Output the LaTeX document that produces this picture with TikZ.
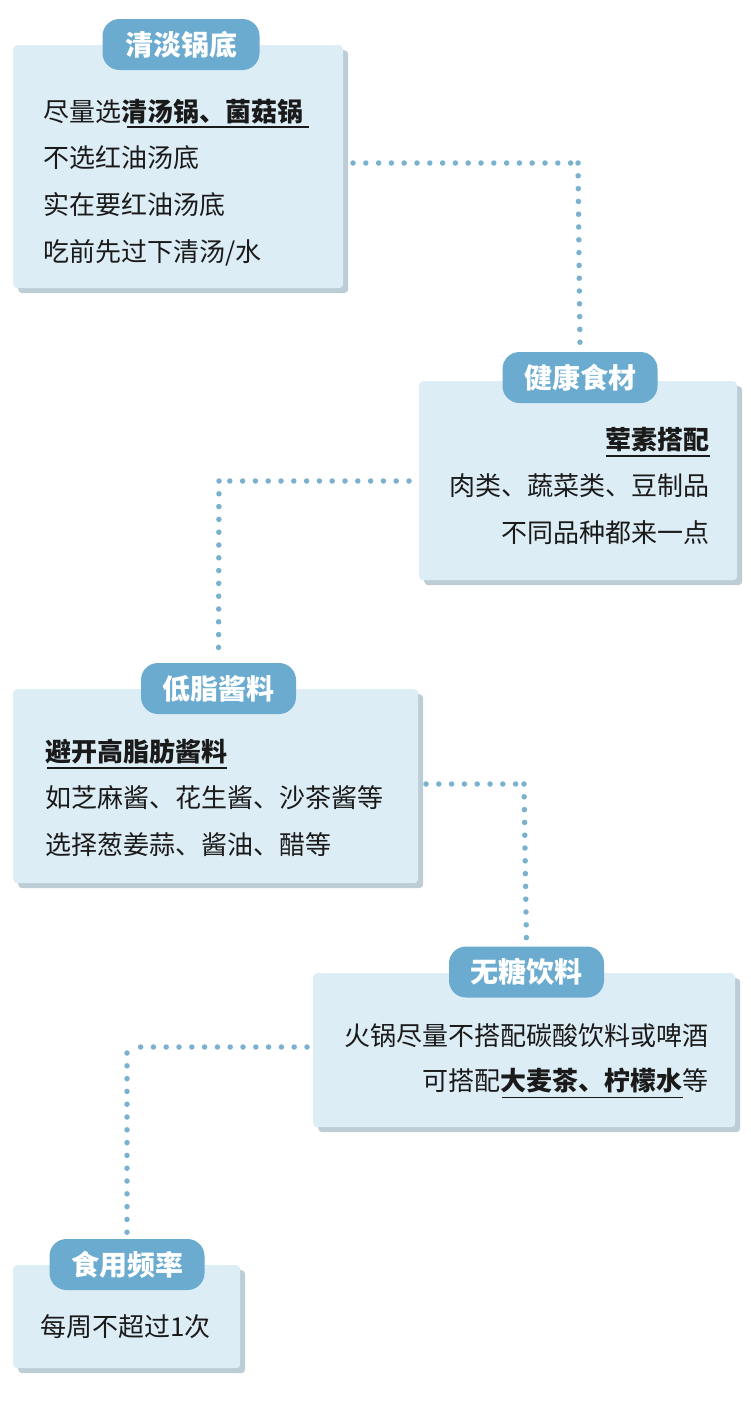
\documentclass[tikz,border=0pt]{standalone}
\usepackage{fontspec}
\setmainfont{Noto Sans CJK SC}
\usetikzlibrary{shadows}
\definecolor{boxfill}{HTML}{DDEDF5}
\definecolor{boxshadow}{HTML}{BCCDD6}
\definecolor{pillfill}{HTML}{6AABCF}
\definecolor{dotc}{HTML}{7AB1CE}
\definecolor{txtc}{HTML}{1A1A1A}
\begin{document}
\begin{tikzpicture}[x=1pt,y=-1pt,
  box/.style={fill=boxfill, rounded corners=4pt, anchor=north west, inner sep=0pt, draw=none,
    drop shadow={shadow xshift=5pt, shadow yshift=-5pt, fill=boxshadow, opacity=1}},
  pill/.style={fill=pillfill, rounded corners=17pt, inner sep=0pt, minimum width=155pt,
    minimum height=51pt, text=white, font=\fontsize{28pt}{32pt}\selectfont\bfseries},
  txt/.style={inner sep=0pt, text=txtc, font=\fontsize{26pt}{30pt}\selectfont},
  btxt/.style={inner sep=0pt, text=txtc, font=\fontsize{26pt}{30pt}\selectfont\bfseries},
  uline/.style={draw=txtc, line width=1.5pt},
  dots/.style={draw=dotc, line width=5.5pt, line cap=round, dash pattern=on 0pt off 12.8pt}]
\fill[white] (0,0) rectangle (750,1408);
\useasboundingbox (0,0) rectangle (750,1408);

% connectors
\coordinate (c1a) at (353,163);
\coordinate (c1b) at (571,163);
\coordinate (c1c) at (578,163);
\coordinate (c2a) at (409,481);
\coordinate (c2b) at (226,481);
\coordinate (c2c) at (219,481);
\coordinate (c3a) at (426,784);
\coordinate (c3b) at (517,784);
\coordinate (c3c) at (524,784);
\coordinate (c4a) at (307,1047);
\coordinate (c4b) at (140,1047);
\coordinate (c4c) at (127,1053);

% boxes
\node[box, minimum width=330pt, minimum height=243pt] (b1) at (13,45) {};
\node[box, minimum width=318pt, minimum height=199pt] (b2) at (419,381) {};
\node[box, minimum width=405pt, minimum height=194pt] (b3) at (13,689) {};
\node[box, minimum width=422pt, minimum height=154pt] (b4) at (313,973) {};
\node[box, minimum width=227pt, minimum height=103pt] (b5) at (13,1265) {};

% pills
\node[pill, minimum width=157pt] (p1) at (181,44.5) {清淡锅底};
\node[pill] (p2) at (580,377.5) {健康食材};
\node[pill] (p3) at (218.5,688.5) {低脂酱料};
\node[pill] (p4) at (526.5,972) {无糖饮料};
\node[pill] (p5) at (127,1264.5) {食用频率};

\draw[dots] (c1a) -- (c1b);
\draw[dots] (c1c) -- ([yshift=3pt]p2.north);
\draw[dots] (c2a) -- (c2b);
\draw[dots] (c2c) -- ([yshift=3pt]p3.north);
\draw[dots] (c3a) -- (c3b);
\draw[dots] (c3c) -- ([yshift=3pt]p4.north);
\draw[dots] (c4a) -- (c4b);
\draw[dots] (c4c) -- ([yshift=6pt]p5.north);

% box 1 text
\node[txt, anchor=base west] (t11) at (43,121) {尽量选};
\node[btxt, anchor=base west] (u1) at (t11.base east) {清汤锅、菌菇锅};
\draw[uline] ([xshift=6pt,yshift=-6pt]u1.base west) -- ([xshift=5pt,yshift=-6pt]u1.base east);
\node[txt, anchor=base west] (t12) at (43,167.5) {不选红油汤底};
\node[txt, anchor=base west] (t13) at (43,214.5) {实在要红油汤底};
\node[txt, anchor=base west] (t14) at (43,261) {吃前先过下清汤/水};

% box 2 text
\node[btxt, anchor=base east] (u2) at (710,449) {荤素搭配};
\draw[uline] ([yshift=-7pt]u2.base west) -- ([yshift=-7pt]u2.base east);
\node[txt, anchor=base east] (t22) at (710,495.5) {肉类、蔬菜类、豆制品};
\node[txt, anchor=base east] (t23) at (710,542) {不同品种都来一点};

% box 3 text
\node[btxt, anchor=base west] (u3) at (45,761) {避开高脂肪酱料};
\draw[uline] ([xshift=2pt,yshift=-7pt]u3.base west) -- ([yshift=-7pt]u3.base east);
\node[txt, anchor=base west] (t32) at (45,807.5) {如芝麻酱、花生酱、沙茶酱等};
\node[txt, anchor=base west] (t33) at (45,854) {选择葱姜蒜、酱油、醋等};

% box 4 text
\node[txt, anchor=base east] (t41) at (709,1045) {火锅尽量不搭配碳酸饮料或啤酒};
\node[txt, anchor=base east] (t43) at (709,1090.5) {等};
\node[btxt, anchor=base east] (u4) at (t43.base west) {大麦茶、柠檬水};
\node[txt, anchor=base east] (t42) at (u4.base west) {可搭配};
\draw[uline] ([xshift=2pt,yshift=-7pt]u4.base west) -- ([yshift=-7pt]u4.base east);

% box 5 text
\node[txt, anchor=base west] (t51) at (40,1336) {每周不超过1次};
\end{tikzpicture}
\end{document}
